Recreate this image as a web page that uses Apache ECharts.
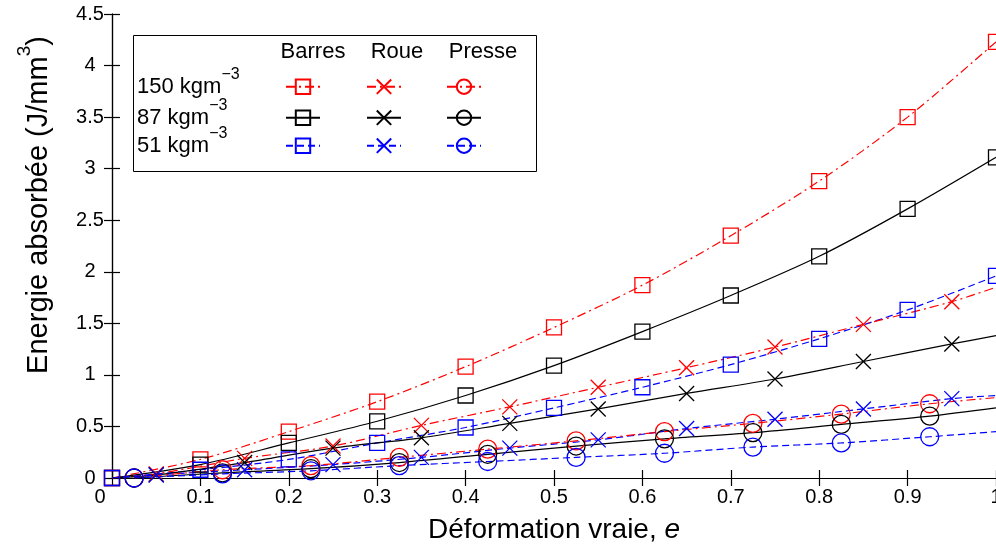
<!DOCTYPE html>
<html>
<head>
<meta charset="utf-8">
<script src="https://cdn.jsdelivr.net/npm/echarts@6/dist/echarts.min.js"></script>
<style>
  html, body { margin: 0; padding: 0; background: #fff; }
  #chart { width: 996px; height: 549px; }
</style>
</head>
<body>
<div id="chart"></div>
<script>
// ---- data ----
const barresX = [0, 0.1, 0.2, 0.3, 0.4, 0.5, 0.6, 0.7, 0.8, 0.9, 1.0];
const roueX   = [0.05, 0.15, 0.25, 0.35, 0.45, 0.55, 0.65, 0.75, 0.85, 0.95];
const presseX = [0.025, 0.125, 0.225, 0.325, 0.425, 0.525, 0.625, 0.725, 0.825, 0.925];

const barres150 = [0, 0.18, 0.45, 0.74, 1.08, 1.46, 1.87, 2.35, 2.88, 3.50, 4.23];
const barres87  = [0, 0.13, 0.34, 0.55, 0.80, 1.09, 1.42, 1.77, 2.15, 2.61, 3.11];
const barres51  = [0, 0.08, 0.18, 0.34, 0.49, 0.68, 0.88, 1.10, 1.35, 1.63, 1.96];

const roue150 = [0.04, 0.19, 0.31, 0.51, 0.69, 0.88, 1.07, 1.27, 1.49, 1.71];
const roue87  = [0.03, 0.15, 0.29, 0.39, 0.53, 0.67, 0.82, 0.96, 1.13, 1.30];
const roue51  = [0.03, 0.08, 0.13, 0.20, 0.29, 0.37, 0.48, 0.57, 0.67, 0.77];
const roueStart = [0, 0, 0];          // curve values at x = 0 (150, 87, 51)
const roueEnd   = [1.85, 1.38, 0.80]; // curve values at x = 1 (150, 87, 51)

const presse150 = [0, 0.08, 0.12, 0.20, 0.28, 0.36, 0.45, 0.53, 0.62, 0.72];
const presse87  = [0, 0.05, 0.09, 0.15, 0.23, 0.31, 0.38, 0.44, 0.52, 0.60];
const presse51  = [0, 0.04, 0.07, 0.12, 0.16, 0.20, 0.24, 0.30, 0.34, 0.40];
const presseEnd = [0.78, 0.68, 0.45];

const methods = ['Barres', 'Roue', 'Presse'];
const densities = ['150', '87', '51'];

// ---- styles ----
const FONT = '"Liberation Sans", Arial, Helvetica, sans-serif';
const colors = { '150': '#ff0000', '87': '#000000', '51': '#0000ff' };
const dashes = { '150': [9, 4, 2, 4], '87': 'solid', '51': [7, 4] };
const symbols = {
  Barres: { symbol: 'rect', size: 15 },
  Roue:   { symbol: 'path://M0,0L10,10M10,0L0,10', size: 15 },
  Presse: { symbol: 'circle', size: 18 }
};

function makeSeries(method, dens, xs, ys, start, end) {
  const data = xs.map((x, i) => [x, ys[i]]);
  if (start !== null && start !== undefined) data.unshift({ value: [0, start], symbol: 'none' });
  if (end !== null && end !== undefined) data.push({ value: [1, end], symbol: 'none' });
  return {
    name: method + ' ' + dens,
    type: 'line',
    data: data,
    smooth: 0.3,
    symbol: symbols[method].symbol,
    symbolSize: symbols[method].size,
    showAllSymbol: true,
    lineStyle: { color: colors[dens], width: 1.2, type: dashes[dens] },
    itemStyle: { color: 'none', borderColor: colors[dens], borderWidth: 1.3 },
    emphasis: { disabled: true },
    z: 3
  };
}

const series = [
  makeSeries('Barres', '150', barresX, barres150, null, null),
  makeSeries('Barres', '87',  barresX, barres87,  null, null),
  makeSeries('Barres', '51',  barresX, barres51,  null, null),
  makeSeries('Roue', '150', roueX, roue150, roueStart[0], roueEnd[0]),
  makeSeries('Roue', '87',  roueX, roue87,  roueStart[1], roueEnd[1]),
  makeSeries('Roue', '51',  roueX, roue51,  roueStart[2], roueEnd[2]),
  makeSeries('Presse', '150', presseX, presse150, null, presseEnd[0]),
  makeSeries('Presse', '87',  presseX, presse87,  null, presseEnd[1]),
  makeSeries('Presse', '51',  presseX, presse51,  null, presseEnd[2])
];

// legend table layout
const colCenters = { Barres: 302, Roue: 383, Presse: 463 };
const rowCenters = { '150': 86, '87': 117, '51': 145 };
const ICON_W = 34, ICON_H = 18;
const legends = [];
methods.forEach(m => densities.forEach(d => {
  legends.push({
    data: [m + ' ' + d],
    left: colCenters[m] - ICON_W / 2,
    top: rowCenters[d] - ICON_H / 2,
    padding: 0,
    itemGap: 0,
    itemWidth: ICON_W,
    itemHeight: ICON_H,
    selectedMode: false,
    z: 20,
    formatter: function () { return ''; },
    textStyle: { fontSize: 1 }
  });
}));

const supRich = {
  n: { fontFamily: FONT, fontSize: 22, color: '#000', lineHeight: 31, verticalAlign: 'bottom' },
  s: { fontFamily: FONT, fontSize: 16, color: '#000', lineHeight: 31, verticalAlign: 'top' }
};

const graphics = [
  { type: 'rect', left: 133, top: 35, shape: { width: 403, height: 136 },
    style: { fill: '#fff', stroke: '#000', lineWidth: 1 }, z: 5 },
  { type: 'text', x: 313, y: 52, style: { text: 'Barres', font: '22px ' + FONT, fill: '#000', align: 'center', verticalAlign: 'middle' }, z: 11 },
  { type: 'text', x: 397, y: 52, style: { text: 'Roue', font: '22px ' + FONT, fill: '#000', align: 'center', verticalAlign: 'middle' }, z: 11 },
  { type: 'text', x: 483, y: 52, style: { text: 'Presse', font: '22px ' + FONT, fill: '#000', align: 'center', verticalAlign: 'middle' }, z: 11 }
];
densities.forEach(d => {
  graphics.push({
    type: 'text', x: 137, y: rowCenters[d] - 4, z: 11,
    style: { text: '{n|' + d + ' kgm}{s|\u22123}', rich: supRich, align: 'left', verticalAlign: 'middle' }
  });
});
graphics.push({
  type: 'text', x: 34, y: 205, rotation: Math.PI / 2, z: 11,
  style: {
    text: '{n|Energie absorbée (J/mm}{s|3}{n|)}',
    rich: {
      n: { fontFamily: FONT, fontSize: 29, color: '#000', lineHeight: 38, verticalAlign: 'bottom' },
      s: { fontFamily: FONT, fontSize: 19, color: '#000', lineHeight: 38, verticalAlign: 'top' }
    },
    align: 'center', verticalAlign: 'middle'
  }
});

const axisLineStyle = { color: '#000', width: 1.2 };
const option = {
  animation: false,
  backgroundColor: '#fff',
  grid: { left: 112, top: 14, right: 0, bottom: 71, containLabel: false, outerBoundsMode: 'none' },
  legend: legends,
  xAxis: [
    {
      type: 'value', min: 0, max: 1, interval: 0.1, position: 'bottom',
      axisLine: { show: true, lineStyle: axisLineStyle },
      axisTick: { show: true, inside: true, length: 8, lineStyle: axisLineStyle },
      axisLabel: {
        color: '#000', fontFamily: FONT, fontSize: 20, margin: 9, showMaxLabel: true,
        formatter: function (v) { return v === 0 ? '{z|0}' : String(v); },
        rich: { z: { fontFamily: FONT, fontSize: 20, color: '#000', padding: [0, 24, 0, 0] } }
      },
      splitLine: { show: false },
      name: 'Déformation vraie, {i|e}',
      nameLocation: 'middle', nameGap: 38,
      nameTextStyle: { fontFamily: FONT, fontSize: 28, color: '#000',
        rich: { i: { fontFamily: FONT, fontSize: 28, fontStyle: 'italic', color: '#000' } } }
    },
    {
      type: 'value', min: 0, max: 1, interval: 0.1, position: 'top',
      axisLine: { show: true, lineStyle: axisLineStyle },
      axisTick: { show: true, inside: true, length: 8, lineStyle: axisLineStyle },
      axisLabel: { show: false }, splitLine: { show: false }
    }
  ],
  yAxis: [
    {
      type: 'value', min: 0, max: 4.5, interval: 0.5, position: 'left',
      axisLine: { show: true, lineStyle: axisLineStyle },
      axisTick: { show: true, inside: true, length: 8, lineStyle: axisLineStyle },
      axisLabel: { color: '#000', fontFamily: FONT, fontSize: 20, margin: 22, align: 'center' },
      splitLine: { show: false }
    },
    {
      type: 'value', min: 0, max: 4.5, interval: 0.5, position: 'right',
      axisLine: { show: true, lineStyle: axisLineStyle },
      axisTick: { show: true, inside: true, length: 8, lineStyle: axisLineStyle },
      axisLabel: { show: false }, splitLine: { show: false }
    }
  ],
  graphic: graphics,
  series: series
};

const chart = echarts.init(document.getElementById('chart'), null, { renderer: 'canvas' });
chart.setOption(option);
</script>
</body>
</html>
